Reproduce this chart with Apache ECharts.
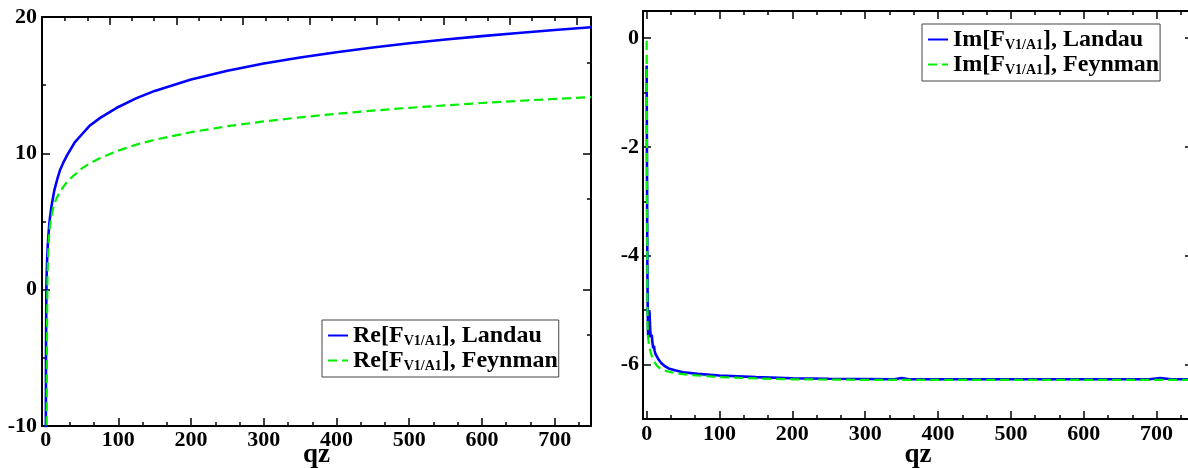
<!DOCTYPE html>
<html><head><meta charset="utf-8">
<script src="https://cdn.jsdelivr.net/npm/echarts@6/dist/echarts.min.js"></script>
<style>html,body{margin:0;padding:0;background:#fff}#c{width:1188px;height:468px}</style>
</head><body><div id="c"></div><script>
// ---------- data ----------
const reLandauQz  = [0.2, 0.5, 1, 1.5, 2, 3, 4, 5, 6, 8, 10, 12, 16, 20, 25, 30, 40, 50, 60, 75, 100, 125, 150, 200, 250, 300, 350, 400, 450, 500, 550, 600, 650, 700, 750];
const reLandauVal = [-12, -4.5, 0.0, 1.3, 2.1, 3.3, 4.1, 4.8, 5.3, 6.1, 6.7, 7.3, 8.1, 8.8, 9.4, 9.9, 10.8, 11.4, 12.0, 12.6, 13.4, 14.05, 14.58, 15.41, 16.06, 16.59, 17.03, 17.42, 17.76, 18.07, 18.35, 18.6, 18.83, 19.05, 19.25];

const reFeynQz  = [1.2, 1.6, 2, 2.5, 3, 4, 5, 6, 8, 10, 12, 15, 20, 25, 30, 35, 50, 60, 75, 100, 125, 150, 200, 250, 300, 350, 400, 450, 500, 550, 600, 650, 700, 750];
const reFeynVal = [-12, -7, -2.5, 0.5, 2.0, 3.4, 4.2, 4.7, 5.4, 5.9, 6.3, 6.7, 7.2, 7.6, 7.95, 8.2, 8.9, 9.25, 9.65, 10.2, 10.64, 10.99, 11.55, 11.99, 12.34, 12.64, 12.9, 13.13, 13.34, 13.52, 13.69, 13.85, 13.99, 14.12];

const imLandauQz  = [0, 0.5, 1, 1.5, 2, 2.5, 3, 3.5, 4, 5, 6, 7, 8, 9, 10, 11, 12, 14, 16, 18, 20, 25, 30, 40, 50, 70, 100, 150, 200, 250, 300, 340, 350, 360, 400, 500, 600, 690, 705, 720, 750];
const imLandauVal = [-0.5, -2.5, -4.2, -5.0, -5.45, -5.5, -5.2, -5.0, -5.05, -5.4, -5.5, -5.45, -5.6, -5.7, -5.65, -5.75, -5.8, -5.85, -5.9, -5.93, -5.97, -6.03, -6.07, -6.11, -6.14, -6.17, -6.2, -6.23, -6.25, -6.26, -6.265, -6.27, -6.245, -6.27, -6.27, -6.27, -6.27, -6.27, -6.245, -6.27, -6.27];

const imFeynQz  = [0, 0.5, 1, 1.5, 2, 3, 4.5, 6, 9, 14, 20, 30, 40, 60, 100, 150, 200, 300, 400, 500, 600, 700, 750];
const imFeynVal = [-0.05, -2.2, -4.8, -5.4, -5.5, -5.62, -5.72, -5.8, -5.92, -6.02, -6.09, -6.13, -6.16, -6.19, -6.23, -6.255, -6.27, -6.28, -6.28, -6.28, -6.28, -6.28, -6.28];

// ticks
const xTicks      = [0, 100, 200, 300, 400, 500, 600, 700];
const xTickLabels = ['0', '100', '200', '300', '400', '500', '600', '700'];
const xMinor      = [33.33, 66.67, 133.33, 166.67, 233.33, 266.67, 333.33, 366.67, 433.33, 466.67, 533.33, 566.67, 633.33, 666.67, 733.33];
const xTopMajorL  = [88.1, 179.9, 271.6, 363.4, 455.1, 546.9, 638.6, 730.4];
const xTopMinorL  = [26.9, 57.5, 118.7, 149.3, 210.5, 241.1, 302.2, 332.8, 394.0, 424.6, 485.7, 516.3, 577.5, 608.1, 669.2, 699.8];

const reYTicks      = [-10, 0, 10, 20];
const reYTickLabels = ['-10', '0', '10', '20'];
const reYMinorLeft  = [-5, 5, 15];
const reYMinorRight = [-3.33, 6.67, 16.67];

const imYTicks      = [-6, -4, -2, 0];
const imYTickLabels = ['-6', '-4', '-2', '0'];
const imYMinor      = [-7, -5, -3, -1];

const legendText = {
  reL: ['Re[F', 'V1/A1', '], Landau'],
  reF: ['Re[F', 'V1/A1', '], Feynman'],
  imL: ['Im[F', 'V1/A1', '], Landau'],
  imF: ['Im[F', 'V1/A1', '], Feynman']
};

// ---------- helpers ----------
const FONT = 'Liberation Serif';
const zip = (xs, ys) => xs.map((x, i) => [x, ys[i]]);
const lbl = (vals, labels) => v => { const i = vals.indexOf(v); return i >= 0 ? labels[i] : ''; };
const tick = (vals, len) => ({ show: true, inside: true, length: len, customValues: vals, lineStyle: { color: '#000', width: 1.5 } });
const line = { show: true, onZero: false, lineStyle: { color: '#000', width: 2 } };
const noLine = { show: false, onZero: false };

function xAxisSet(g, min, max, major, labels, minor, topMajor, topMinor, margin, nameGap) {
  const base = { gridIndex: g, type: 'value', min, max, splitLine: { show: false } };
  return [
    Object.assign({}, base, {
      position: 'bottom', axisLine: line, axisTick: tick(major, 8),
      axisLabel: { show: true, customValues: major, formatter: lbl(major, labels), margin,
        fontFamily: FONT, fontWeight: 'bold', fontSize: 22, color: '#000' },
      name: 'qz', nameLocation: 'middle', nameGap, nameMoveOverlap: false,
      nameTextStyle: { fontFamily: FONT, fontWeight: 'bold', fontSize: 27, color: '#000' }
    }),
    Object.assign({}, base, { position: 'bottom', axisLine: noLine, axisTick: tick(minor, 4), axisLabel: { show: false } }),
    Object.assign({}, base, { position: 'top', axisLine: line, axisTick: tick(topMajor, 8), axisLabel: { show: false } }),
    Object.assign({}, base, { position: 'top', axisLine: noLine, axisTick: tick(topMinor, 4), axisLabel: { show: false } })
  ];
}
function yAxisSet(g, min, max, major, labels, minorL, rightMajor, minorR, margin) {
  const base = { gridIndex: g, type: 'value', min, max, splitLine: { show: false } };
  return [
    Object.assign({}, base, {
      position: 'left', axisLine: line, axisTick: tick(major, 8),
      axisLabel: { show: true, customValues: major, formatter: lbl(major, labels), margin,
        fontFamily: FONT, fontWeight: 'bold', fontSize: 22, color: '#000' }
    }),
    Object.assign({}, base, { position: 'left', axisLine: noLine, axisTick: tick(minorL, 4), axisLabel: { show: false } }),
    Object.assign({}, base, { position: 'right', axisLine: line, axisTick: tick(rightMajor, 8), axisLabel: { show: false } }),
    Object.assign({}, base, { position: 'right', axisLine: noLine, axisTick: tick(minorR, 4), axisLabel: { show: false } })
  ];
}
function legendSet(names, left, top) {
  return {
    data: names, orient: 'vertical', left, top,
    padding: [3, 1, 4, 5], itemGap: 0, itemWidth: 20, itemHeight: 12,
    itemStyle: { opacity: 0 },
    backgroundColor: '#fff', borderColor: '#444', borderWidth: 1, borderRadius: 0,
    textStyle: {
      fontFamily: FONT, fontWeight: 'bold', fontSize: 24, color: '#000', lineHeight: 25,
      rich: { s: { fontFamily: FONT, fontWeight: 'bold', fontSize: 14, color: '#000', verticalAlign: 'bottom' } }
    },
    formatter: n => { const t = legendText[n]; return t[0] + '{s|' + t[1] + '}' + t[2]; }
  };
}

const blue = '#0000ff', green = '#00ee00';
function ser(name, xi, yi, qz, val, color, dashed) {
  return {
    name, type: 'line', xAxisIndex: xi, yAxisIndex: yi, data: zip(qz, val),
    symbol: 'none', showSymbol: false, clip: true, smooth: false,
    lineStyle: { color, width: dashed ? 2.2 : 2.6, type: dashed ? [9, 5] : 'solid' },
    itemStyle: { color }
  };
}

const option = {
  animation: false,
  backgroundColor: '#fff',
  grid: [
    { left: 42, top: 17, width: 549, height: 409, containLabel: false, outerBoundsMode: 'none' },
    { left: 643, top: 11, width: 550, height: 408, containLabel: false, outerBoundsMode: 'none' }
  ],
  xAxis: [
    ...xAxisSet(0, -5, 750, xTicks, xTickLabels, xMinor, xTopMajorL, xTopMinorL, 3, 16),
    ...xAxisSet(1, -5, 750, xTicks, xTickLabels, xMinor, xTicks, xMinor, 4, 23)
  ],
  yAxis: [
    ...yAxisSet(0, -10, 20, reYTicks, reYTickLabels, reYMinorLeft, reYTicks, reYMinorRight, 5),
    ...yAxisSet(1, -7, 0.5, imYTicks, imYTickLabels, imYMinor, imYTicks, imYMinor, 4)
  ],
  legend: [
    legendSet(['reL', 'reF'], 322, 320),
    legendSet(['imL', 'imF'], 922, 24)
  ],
  series: [
    ser('reL', 0, 0, reLandauQz, reLandauVal, blue, false),
    ser('reF', 0, 0, reFeynQz, reFeynVal, green, true),
    ser('imL', 4, 4, imLandauQz, imLandauVal, blue, false),
    ser('imF', 4, 4, imFeynQz, imFeynVal, green, true)
  ]
};
const chart = echarts.init(document.getElementById('c'), null, { renderer: 'canvas' });
chart.setOption(option);
</script></body></html>
